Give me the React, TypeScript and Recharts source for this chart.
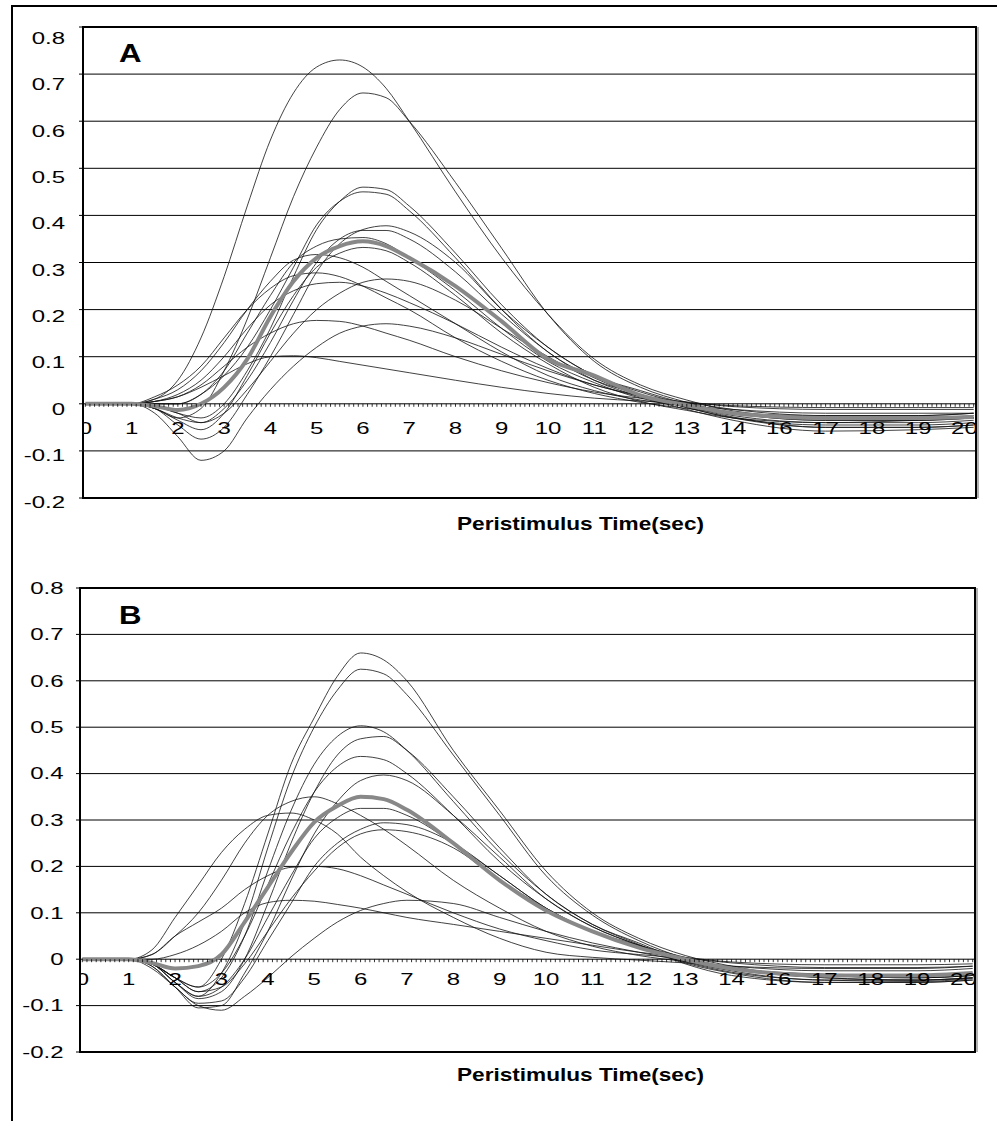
import React from 'react';
import { LineChart, Line, XAxis, YAxis, CartesianGrid, ReferenceArea, ReferenceLine } from 'recharts';

// x positions are in label slots: slot k carries the k-th tick label
const xTime = [0, 1, 1.5, 2, 2.5, 3, 3.5, 4, 4.5, 5, 5.5, 6, 6.5, 7, 8, 9, 10, 11, 12, 13, 14, 16, 18, 19.2];
const xTickLabels = ['0', '1', '2', '3', '4', '5', '6', '7', '8', '9', '10', '11', '12', '13', '14', '16', '17', '18', '19', '20'];
const yTicks = [-0.2, -0.1, 0, 0.1, 0.2, 0.3, 0.4, 0.5, 0.6, 0.7, 0.8];
const xTitle = 'Peristimulus Time(sec)';

// panel A: single responses (thin) and their mean (thick gray)
const curvesA = [
  [0, 0, 0.01, 0.05, 0.14, 0.27, 0.42, 0.56, 0.66, 0.715, 0.73, 0.715, 0.67, 0.6, 0.45, 0.31, 0.19, 0.095, 0.04, 0.008, -0.015, -0.03, -0.03, -0.03],
  [0, 0, -0.01, -0.03, -0.01, 0.07, 0.18, 0.31, 0.44, 0.545, 0.625, 0.66, 0.65, 0.6, 0.47, 0.33, 0.19, 0.09, 0.035, 0.003, -0.02, -0.035, -0.035, -0.03],
  [0, 0, -0.005, -0.02, -0.03, 0, 0.07, 0.16, 0.27, 0.37, 0.43, 0.46, 0.455, 0.42, 0.32, 0.21, 0.12, 0.06, 0.025, -0.002, -0.025, -0.04, -0.04, -0.035],
  [0, 0, 0, 0, 0.02, 0.06, 0.12, 0.2, 0.29, 0.38, 0.43, 0.45, 0.445, 0.41, 0.31, 0.2, 0.11, 0.055, 0.018, -0.008, -0.03, -0.05, -0.05, -0.045],
  [0, 0, -0.01, -0.045, -0.075, -0.05, 0.02, 0.1, 0.19, 0.28, 0.34, 0.37, 0.378, 0.365, 0.3, 0.2, 0.12, 0.06, 0.028, 0, -0.02, -0.035, -0.035, -0.03],
  [0, 0, -0.01, -0.03, -0.04, -0.01, 0.05, 0.13, 0.22, 0.3, 0.35, 0.368, 0.368, 0.35, 0.28, 0.19, 0.11, 0.05, 0.015, -0.012, -0.035, -0.058, -0.055, -0.05],
  [0, 0, 0, 0, 0.02, 0.07, 0.15, 0.23, 0.3, 0.335, 0.35, 0.353, 0.34, 0.31, 0.24, 0.16, 0.09, 0.045, 0.012, -0.006, -0.02, -0.03, -0.03, -0.025],
  [0, 0, -0.01, -0.035, -0.055, -0.02, 0.06, 0.15, 0.23, 0.29, 0.32, 0.332, 0.325, 0.3, 0.23, 0.15, 0.085, 0.035, 0.005, -0.014, -0.03, -0.04, -0.035, -0.03],
  [0, 0, 0.01, 0.03, 0.07, 0.13, 0.2, 0.26, 0.305, 0.317, 0.31, 0.29, 0.26, 0.23, 0.17, 0.11, 0.06, 0.028, 0.008, -0.004, -0.012, -0.02, -0.02, -0.02],
  [0, 0, 0.015, 0.04, 0.08, 0.14, 0.2, 0.245, 0.272, 0.278, 0.27, 0.25, 0.225, 0.2, 0.14, 0.09, 0.05, 0.022, 0.003, -0.01, -0.02, -0.025, -0.025, -0.02],
  [0, 0, -0.005, -0.02, -0.04, -0.02, 0.03, 0.09, 0.15, 0.2, 0.235, 0.258, 0.265, 0.26, 0.22, 0.16, 0.1, 0.05, 0.02, -0.008, -0.03, -0.045, -0.045, -0.04],
  [0, 0, 0.005, 0.02, 0.05, 0.1, 0.16, 0.21, 0.24, 0.255, 0.258, 0.25, 0.235, 0.215, 0.17, 0.12, 0.075, 0.04, 0.018, 0.003, -0.012, -0.025, -0.025, -0.02],
  [0, 0, 0.005, 0.015, 0.04, 0.08, 0.12, 0.15, 0.17, 0.177, 0.175, 0.165, 0.15, 0.135, 0.1, 0.07, 0.045, 0.025, 0.012, 0.004, -0.006, -0.012, -0.012, -0.012],
  [0, 0, -0.02, -0.07, -0.12, -0.1, -0.03, 0.03, 0.08, 0.12, 0.15, 0.165, 0.17, 0.165, 0.14, 0.105, 0.07, 0.04, 0.015, -0.006, -0.028, -0.05, -0.05, -0.045],
  [0, 0, 0.005, 0.015, 0.035, 0.06, 0.085, 0.1, 0.102, 0.098, 0.09, 0.082, 0.074, 0.066, 0.05, 0.035, 0.022, 0.012, 0.006, 0.002, -0.004, -0.008, -0.008, -0.008],
];
const meanA = [0, 0, -0.005, -0.013, 0, 0.035, 0.095, 0.185, 0.26, 0.31, 0.335, 0.345, 0.335, 0.31, 0.25, 0.175, 0.095, 0.06, 0.018, -0.003, -0.02, -0.03, -0.03, -0.028];

// panel B
const curvesB = [
  [0, 0, -0.01, -0.04, -0.06, 0, 0.12, 0.27, 0.42, 0.52, 0.61, 0.66, 0.645, 0.6, 0.45, 0.32, 0.19, 0.1, 0.045, 0.008, -0.015, -0.04, -0.045, -0.04],
  [0, 0, -0.01, -0.05, -0.08, -0.03, 0.08, 0.24, 0.39, 0.5, 0.58, 0.625, 0.615, 0.57, 0.44, 0.31, 0.18, 0.095, 0.04, 0.002, -0.02, -0.04, -0.045, -0.04],
  [0, 0, -0.01, -0.04, -0.07, -0.04, 0.05, 0.19, 0.32, 0.42, 0.48, 0.503, 0.49, 0.45, 0.34, 0.23, 0.14, 0.075, 0.035, -0.004, -0.025, -0.045, -0.045, -0.04],
  [0, 0, -0.01, -0.05, -0.085, -0.07, 0, 0.12, 0.25, 0.36, 0.44, 0.475, 0.48, 0.45, 0.35, 0.24, 0.14, 0.075, 0.032, -0.008, -0.03, -0.05, -0.05, -0.045],
  [0, 0, -0.01, -0.04, -0.06, -0.03, 0.05, 0.16, 0.27, 0.36, 0.415, 0.437, 0.43, 0.4, 0.31, 0.21, 0.13, 0.07, 0.03, 0, -0.02, -0.035, -0.04, -0.035],
  [0, 0, -0.015, -0.06, -0.105, -0.1, -0.03, 0.06, 0.17, 0.27, 0.34, 0.385, 0.397, 0.385, 0.31, 0.22, 0.13, 0.07, 0.03, -0.01, -0.035, -0.05, -0.05, -0.045],
  [0, 0, 0.01, 0.05, 0.1, 0.17, 0.25, 0.31, 0.34, 0.35, 0.335, 0.31, 0.28, 0.245, 0.17, 0.11, 0.06, 0.028, 0.008, -0.005, -0.015, -0.025, -0.025, -0.02],
  [0, 0, 0.02, 0.09, 0.16, 0.23, 0.28, 0.31, 0.315, 0.3, 0.27, 0.22, 0.18, 0.145, 0.09, 0.045, 0.015, 0.004, -0.002, -0.008, -0.015, -0.02, -0.02, -0.015],
  [0, 0, -0.01, -0.05, -0.08, -0.06, 0, 0.09, 0.18, 0.26, 0.305, 0.325, 0.325, 0.31, 0.25, 0.18, 0.11, 0.06, 0.03, 0.004, -0.02, -0.035, -0.04, -0.035],
  [0, 0, -0.015, -0.06, -0.095, -0.09, -0.04, 0.04, 0.12, 0.2, 0.25, 0.28, 0.294, 0.29, 0.25, 0.18, 0.11, 0.06, 0.028, -0.006, -0.028, -0.045, -0.048, -0.042],
  [0, 0, -0.01, -0.04, -0.07, -0.06, -0.01, 0.06, 0.13, 0.19, 0.24, 0.27, 0.279, 0.275, 0.24, 0.17, 0.11, 0.06, 0.03, -0.002, -0.022, -0.035, -0.04, -0.035],
  [0, 0, 0.01, 0.05, 0.08, 0.11, 0.15, 0.18, 0.198, 0.2, 0.195, 0.18, 0.16, 0.14, 0.1, 0.065, 0.04, 0.02, 0.01, 0.002, -0.008, -0.018, -0.018, -0.015],
  [0, 0, 0, 0.01, 0.03, 0.06, 0.1, 0.122, 0.127, 0.125, 0.118, 0.11, 0.1, 0.09, 0.075, 0.06, 0.045, 0.03, 0.015, 0.004, -0.006, -0.012, -0.012, -0.01],
  [0, 0, -0.02, -0.06, -0.1, -0.11, -0.08, -0.04, 0.005, 0.045, 0.08, 0.105, 0.12, 0.127, 0.12, 0.09, 0.06, 0.035, 0.015, -0.004, -0.02, -0.032, -0.035, -0.03],
];
const meanB = [0, 0, -0.008, -0.02, -0.015, 0.01, 0.08, 0.155, 0.23, 0.295, 0.33, 0.35, 0.345, 0.322, 0.25, 0.17, 0.105, 0.06, 0.025, 0, -0.02, -0.035, -0.035, -0.03];

const FONT = '"Liberation Sans", Arial, Helvetica, sans-serif';
const X_DOMAIN: [number, number] = [-0.05, 19.25];
// small ticks every tenth of a slot along the zero line
const minorTicks = Array.from({ length: 193 }, (_, j) => j / 10);

const buildRows = (curves: number[][], mean: number[]) =>
  xTime.map((t, i) => {
    const row: Record<string, number> = { t, mean: mean[i] };
    curves.forEach((c, j) => {
      row[`c${j}`] = c[i];
    });
    return row;
  });

// the original lettering is stretched sideways
const WideText = ({ x, y, sx, size, anchor = 'start', bold = false, children }: any) => (
  <text
    transform={`translate(${x} ${y}) scale(${sx} 1)`}
    textAnchor={anchor}
    fontSize={size}
    fontWeight={bold ? 700 : 400}
    fontFamily={FONT}
    fill="#000"
  >
    {children}
  </text>
);

type PanelCfg = {
  id: string;
  letter: string;
  top: number;
  height: number;
  plotLeft: number;
  plotRight: number;
  plotTop: number;
  plotBottom: number;
  xLabelDy: number;
  yShift: (v: number) => number;
  tickMargin: number;
  letterY: number;
  titleY: number;
  curves: number[][];
  mean: number[];
};

const Panel = ({ cfg }: { cfg: PanelCfg }) => {
  const data = buildRows(cfg.curves, cfg.mean);
  const plotH = cfg.plotBottom - cfg.plotTop;
  const y0 = cfg.plotTop + plotH * 0.8; // pixel row of the zero line
  const clipId = `xclip-${cfg.id}`;

  const xTick = (props: any) => {
    const { x, payload, index } = props;
    const j = Math.round(payload.value * 10);
    const major = j % 10 === 0;
    return (
      <g key={`xt-${index}`}>
        {index === 0 && (
          <defs>
            <clipPath id={clipId}>
              <rect x={cfg.plotLeft + 1} y={0} width={cfg.plotRight - cfg.plotLeft - 1} height={cfg.height} />
            </clipPath>
          </defs>
        )}
        <line x1={x} x2={x} y1={y0} y2={y0 + 3} stroke="#000" strokeWidth={0.8} />
        {major && (
          <g clipPath={`url(#${clipId})`}>
            <WideText x={x} y={y0 + cfg.xLabelDy} sx={1.5} size={16} anchor="middle">
              {xTickLabels[j / 10]}
            </WideText>
          </g>
        )}
      </g>
    );
  };

  const yTick = (props: any) => {
    const { x, y, payload, index } = props;
    const v = payload.value;
    return (
      <g key={`yt-${index}`}>
        <WideText x={x} y={y + cfg.yShift(v) + 5.7} sx={1.5} size={16} anchor="end">
          {String(v)}
        </WideText>
      </g>
    );
  };

  return (
    <div style={{ position: 'absolute', left: 0, top: cfg.top, width: 997, height: cfg.height }}>
      <LineChart
        width={997}
        height={cfg.height}
        data={data}
        margin={{ top: cfg.plotTop, right: 997 - cfg.plotRight, bottom: 0, left: 0 }}
      >
        <CartesianGrid vertical={false} stroke="#000" strokeWidth={1} />
        <XAxis
          dataKey="t"
          type="number"
          domain={X_DOMAIN}
          ticks={minorTicks}
          interval={0}
          height={cfg.height - cfg.plotBottom}
          axisLine={false}
          tickLine={false}
          tick={xTick}
        />
        <YAxis
          domain={[-0.2, 0.8]}
          ticks={yTicks}
          interval={0}
          width={cfg.plotLeft}
          axisLine={{ stroke: '#000', strokeWidth: 2 }}
          tickLine={{ stroke: '#000' }}
          tickSize={4}
          tickMargin={cfg.tickMargin}
          tick={yTick}
        />
        <ReferenceArea y1={-0.2} y2={0.8} fill="none" stroke="#000" strokeWidth={2} />
        {/* faint drop shadow on the right edge of the plot frame */}
        <ReferenceLine x={X_DOMAIN[1]} stroke="#999" strokeWidth={1.5} position="end" style={{ transform: 'translateX(2px)' }} />
        {cfg.curves.map((_, j) => (
          <Line
            key={j}
            type="monotone"
            dataKey={`c${j}`}
            stroke="#111"
            strokeWidth={0.8}
            dot={false}
            isAnimationActive={false}
          />
        ))}
        <Line type="monotone" dataKey="mean" stroke="#888" strokeWidth={4} dot={false} isAnimationActive={false} />
      </LineChart>
      <svg width={997} height={cfg.height} style={{ position: 'absolute', left: 0, top: 0, pointerEvents: 'none' }}>
        <WideText x={119} y={cfg.letterY} sx={1.2} size={26} bold>
          {cfg.letter}
        </WideText>
        <WideText x={580.5} y={cfg.titleY} sx={1.19} size={19} anchor="middle" bold>
          {xTitle}
        </WideText>
      </svg>
    </div>
  );
};

const panelA: PanelCfg = {
  id: 'A',
  letter: 'A',
  top: 0,
  height: 545,
  plotLeft: 83,
  plotRight: 976,
  plotTop: 27,
  plotBottom: 498,
  xLabelDy: 30,
  yShift: (v) => 5.3 + 7.4 * v,
  tickMargin: 14,
  letterY: 62,
  titleY: 530,
  curves: curvesA,
  mean: meanA,
};

const panelB: PanelCfg = {
  id: 'B',
  letter: 'B',
  top: 560,
  height: 540,
  plotLeft: 80,
  plotRight: 975,
  plotTop: 28,
  plotBottom: 492,
  xLabelDy: 26,
  yShift: () => 0,
  tickMargin: 12.5,
  letterY: 64,
  titleY: 521,
  curves: curvesB,
  mean: meanB,
};

const App: React.FC = () => (
  <div style={{ position: 'absolute', left: 0, top: 0, width: 997, height: 1121, background: '#fff', overflow: 'hidden' }}>
    <div
      style={{
        position: 'absolute',
        left: 11,
        top: 5,
        width: 1000,
        height: 1130,
        borderTop: '2px solid #000',
        borderLeft: '2px solid #000',
      }}
    />
    <Panel cfg={panelA} />
    <Panel cfg={panelB} />
  </div>
);

export default App;
